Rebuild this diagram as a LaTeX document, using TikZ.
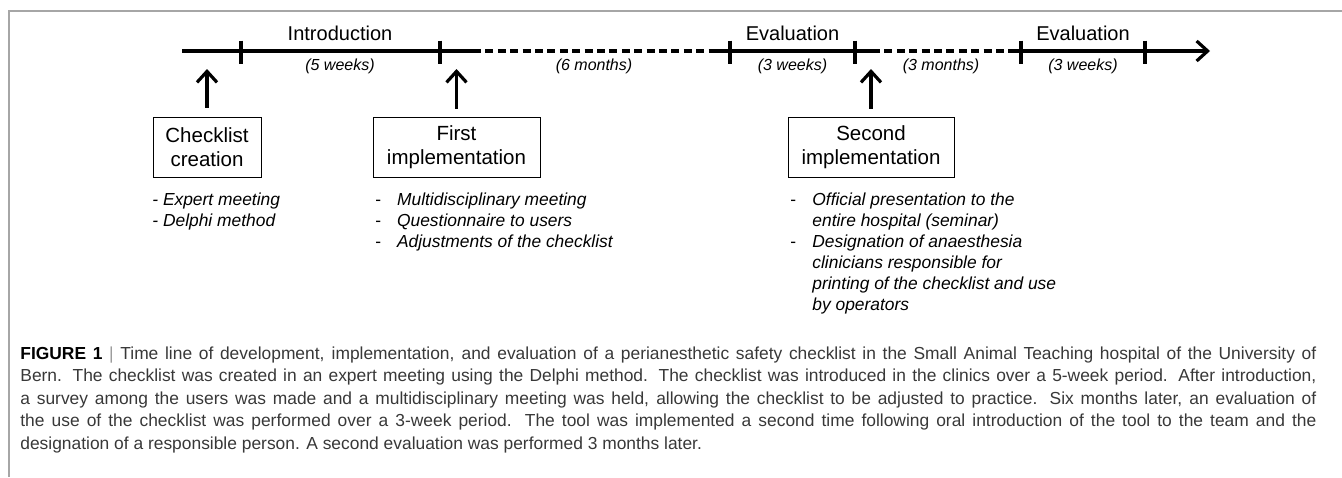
\documentclass[tikz,border=0pt]{standalone}
\usepackage{fontspec}
\setmainfont{Liberation Sans}
\usetikzlibrary{arrows.meta}
\begin{document}
\begin{tikzpicture}[x=0.5pt,y=-0.5pt,
  tl/.style={line width=1.6pt},
  dsh/.style={line width=1.6pt, dash pattern=on 4pt off 2.2pt},
  tickmark/.style={line width=1.6pt},
  barb/.style={-{Straight Barb[length=5.5pt,width=10pt,line width=1.6pt]}},
  uparrow/.style={line width=1.7pt, barb},
  phaselbl/.style={font=\fontsize{10}{12}\selectfont, anchor=base, inner sep=0pt},
  durlbl/.style={font=\fontsize{8}{9.6}\selectfont\itshape, anchor=base, inner sep=0pt},
  stagebox/.style={draw, line width=0.5pt, minimum height=30pt, inner sep=0pt, align=center, font=\fontsize{10.25}{12.2}\selectfont},
  blist/.style={anchor=base west, inner sep=0pt, font=\fontsize{8.7}{10.5}\selectfont\itshape},
  grayframe/.style={draw=black!35, line width=0.6pt},
  captxt/.style={anchor=base west, inner sep=0pt, font=\fontsize{8.7}{11.25}\selectfont, text=black!78}
]
\useasboundingbox (0,0) rectangle (1342,477);

% frame
\coordinate (fa) at (9,477);
\coordinate (fb) at (9,11);
\coordinate (fc) at (1342,11);
\draw[grayframe] (fa) -- (fb) -- (fc);

% timeline points
\coordinate (s)  at (182,51);
\coordinate (k1) at (241,51);
\coordinate (k2) at (440,51);
\coordinate (d1) at (473,51);
\coordinate (d2) at (713,51);
\coordinate (k3) at (730,51);
\coordinate (k4) at (855,51);
\coordinate (d3) at (872,51);
\coordinate (d4) at (1013,51);
\coordinate (k5) at (1021,51);
\coordinate (k6) at (1145,51);
\coordinate (e)  at (1210,51);

\draw[tl] (s) -- (d1);
\draw[dsh] (d1) -- (d2);
\draw[tl] (d2) -- (d3);
\draw[dsh] (d3) -- (d4);
\draw[tl, barb] (d4) -- (e);

\foreach \k in {k1,k2,k3,k4,k5,k6}
  \draw[tickmark] ([yshift=5.25pt]\k) -- ([yshift=-6.5pt]\k);

% phase labels
\node[phaselbl] (intro) at (340,40.5) {Introduction};
\node[phaselbl] (eval1) at (792.5,40.5) {Evaluation};
\node[phaselbl] (eval2) at (1083,40.5) {Evaluation};

\node[durlbl] (w5)  at (340,70) {(5 weeks)};
\node[durlbl] (m6)  at (594,70) {(6 months)};
\node[durlbl] (w3a) at (792.5,70) {(3 weeks)};
\node[durlbl] (m3)  at (941,70) {(3 months)};
\node[durlbl] (w3b) at (1083,70) {(3 weeks)};

% boxes
\node[stagebox, minimum width=54pt]   (b1) at (207,147)   {Checklist\\creation};
\node[stagebox, minimum width=83.5pt] (b2) at (456.5,147) {First\\implementation};
\node[stagebox, minimum width=83pt]   (b3) at (871,147)   {Second\\implementation};

% arrows
\coordinate (a1) at (207,69);
\coordinate (a2) at (456.5,69);
\coordinate (a3) at (871,69);
\draw[uparrow] ([yshift=4.5pt]b1.north) -- (a1);
\draw[uparrow] ([yshift=4pt]b2.north) -- (a2);
\draw[uparrow] ([yshift=4pt]b3.north) -- (a3);

% lists
\node[blist] (l1) at (152,205) {\begin{tabular}[t]{@{}l@{}}
- Expert meeting\\
- Delphi method
\end{tabular}};
\node[blist] (l2) at (375,205.5) {\begin{tabular}[t]{@{}p{10.85pt}@{}l@{}}
\textup{-} & Multidisciplinary meeting\\
\textup{-} & Questionnaire to users\\
\textup{-} & Adjustments of the checklist
\end{tabular}};
\node[blist] (l3) at (790,205.5) {\begin{tabular}[t]{@{}p{11pt}@{}l@{}}
\textup{-} & Official presentation to the\\
 & entire hospital (seminar)\\
\textup{-} & Designation of anaesthesia\\
 & clinicians responsible for\\
 & printing of the checklist and use\\
 & by operators
\end{tabular}};

% caption
\node[captxt] (cap) at (20,359) {\begin{tabular}[t]{@{}l@{}}
\makebox[648pt][s]{{\color{black}\bfseries FIGURE 1} {\color{black!40}|} Time line of development, implementation, and evaluation of a perianesthetic safety checklist in the Small Animal Teaching hospital of the University of}\\
\makebox[648pt][s]{Bern. The checklist was created in an expert meeting using the Delphi method. The checklist was introduced in the clinics over a 5-week period. After introduction,}\\
\makebox[648pt][s]{a survey among the users was made and a multidisciplinary meeting was held, allowing the checklist to be adjusted to practice. Six months later, an evaluation of}\\
\makebox[648pt][s]{the use of the checklist was performed over a 3-week period. The tool was implemented a second time following oral introduction of the tool to the team and the}\\
designation of a responsible person. A second evaluation was performed 3 months later.
\end{tabular}};
\end{tikzpicture}
\end{document}
